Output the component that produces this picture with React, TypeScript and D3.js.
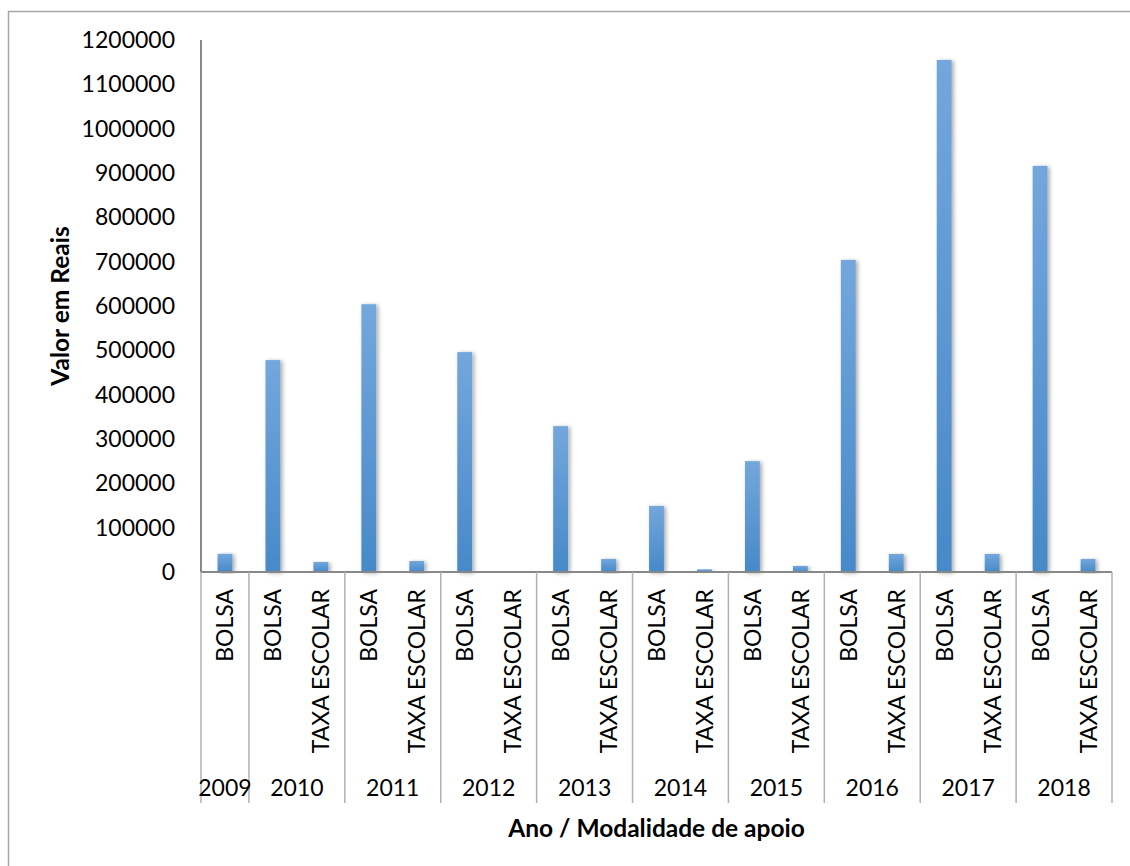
import { useEffect, useRef } from "react";
import * as d3 from "d3";

// Valores (R$)
const anos = ["2009", "2010", "2011", "2012", "2013", "2014", "2015", "2016", "2017", "2018"];
const bolsa = [41000, 478000, 604000, 496000, 329000, 149000, 250000, 704000, 1155000, 916000];
// null = modalidade ausente naquele ano
const taxaEscolar: (number | null)[] = [null, 22500, 24800, 0, 29300, 6000, 13500, 40600, 40600, 29300];
const yMax = 1200000;

interface Categoria {
	ano: string;
	modalidade: string;
	valor: number;
}

const categorias: Categoria[] = [];
anos.forEach((ano, i) => {
	categorias.push({ ano, modalidade: "BOLSA", valor: bolsa[i] });
	if (taxaEscolar[i] !== null) {
		categorias.push({ ano, modalidade: "TAXA ESCOLAR", valor: taxaEscolar[i] as number });
	}
});

const FONT = "Lato, Carlito, 'Open Sans', sans-serif";
const FS = 23;
const FS_TITLE = 24.5;

const App = () => {
	const svgRef = useRef<SVGSVGElement>(null);

	useEffect(() => {
		if (!svgRef.current) return;
		document.body.style.margin = "0";

		const width = 1130;
		const height = 866;
		const margin = { top: 40, left: 201, right: 18, bottom: 294 };
		const x0 = margin.left;
		const x1 = width - margin.right;
		const yBase = height - margin.bottom;

		const svg = d3.select(svgRef.current).attr("width", width).attr("height", height);
		svg.selectAll("*").remove();

		const defs = svg.append("defs");
		const grad = defs
			.append("linearGradient")
			.attr("id", "barGrad")
			.attr("x1", 0)
			.attr("y1", 0)
			.attr("x2", 0)
			.attr("y2", 1);
		grad.append("stop").attr("offset", "0%").attr("stop-color", "#73a7dc");
		grad.append("stop").attr("offset", "100%").attr("stop-color", "#4789c8");

		const shadow = defs
			.append("filter")
			.attr("id", "barShadow")
			.attr("x", "-50%")
			.attr("y", "-10%")
			.attr("width", "200%")
			.attr("height", "120%");
		shadow
			.append("feDropShadow")
			.attr("dx", 2)
			.attr("dy", 1)
			.attr("stdDeviation", 2)
			.attr("flood-color", "#000")
			.attr("flood-opacity", 0.35);

		// Borda externa
		svg
			.append("rect")
			.attr("x", 8.5)
			.attr("y", 11.5)
			.attr("width", width + 10)
			.attr("height", height + 10)
			.attr("fill", "#fff")
			.attr("stroke", "#a6a6a6")
			.attr("stroke-width", 1.5);

		// Escalas
		const xScale = d3
			.scaleBand<number>()
			.domain(d3.range(categorias.length))
			.range([x0, x1])
			.paddingInner(0.69)
			.paddingOuter(0.345);
		const xIdx = d3.scaleLinear().domain([0, categorias.length]).range([x0, x1]);

		const yScale = d3.scaleLinear().domain([0, yMax]).range([yBase, margin.top]);

		// Eixo Y
		const yAxis = d3
			.axisLeft(yScale)
			.ticks(12)
			.tickSize(0)
			.tickPadding(26)
			.tickFormat((d) => d3.format("d")(d as number));

		const gy = svg.append("g").attr("transform", `translate(${x0},0)`).call(yAxis);
		gy.select(".domain").remove();
		gy.selectAll("text")
			.attr("font-family", FONT)
			.attr("font-size", FS)
			.attr("fill", "#000");

		svg
			.append("line")
			.attr("x1", x0)
			.attr("x2", x0)
			.attr("y1", margin.top)
			.attr("y2", yBase)
			.attr("stroke", "#888")
			.attr("stroke-width", 2);

		// Barras
		svg
			.append("g")
			.selectAll("rect")
			.data(categorias)
			.enter()
			.append("rect")
			.attr("x", (_d, i) => xScale(i) as number)
			.attr("y", (d) => yScale(d.valor))
			.attr("width", xScale.bandwidth())
			.attr("height", (d) => yBase - yScale(d.valor))
			.attr("fill", "url(#barGrad)")
			.attr("filter", (d) => (d.valor > 0 ? "url(#barShadow)" : null));

		// Eixo X
		svg
			.append("line")
			.attr("x1", x0)
			.attr("x2", x1)
			.attr("y1", yBase)
			.attr("y2", yBase)
			.attr("stroke", "#888")
			.attr("stroke-width", 2);

		// Separadores de ano
		const limites: number[] = [0];
		anos.forEach((ano) => {
			const n = categorias.filter((c) => c.ano === ano).length;
			limites.push(limites[limites.length - 1] + n);
		});

		svg
			.append("g")
			.selectAll("line")
			.data(limites)
			.enter()
			.append("line")
			.attr("x1", (d) => xIdx(d))
			.attr("x2", (d) => xIdx(d))
			.attr("y1", yBase)
			.attr("y2", 803)
			.attr("stroke", "#b0b0b0")
			.attr("stroke-width", 1.5);

		// Rótulos das modalidades (rotacionados)
		svg
			.append("g")
			.selectAll("text")
			.data(categorias)
			.enter()
			.append("text")
			.attr(
				"transform",
				(_d, i) => `translate(${(xScale(i) as number) + xScale.bandwidth() / 2 + 8.5},589) rotate(-90)`,
			)
			.attr("text-anchor", "end")
			.attr("font-family", FONT)
			.attr("font-size", FS)
			.attr("fill", "#000")
			.text((d) => d.modalidade);

		// Rótulos dos anos
		svg
			.append("g")
			.selectAll("text")
			.data(anos)
			.enter()
			.append("text")
			.attr("x", (_d, i) => (xIdx(limites[i]) + xIdx(limites[i + 1])) / 2)
			.attr("y", 787)
			.attr("dominant-baseline", "central")
			.attr("text-anchor", "middle")
			.attr("font-family", FONT)
			.attr("font-size", FS)
			.attr("fill", "#000")
			.text((d) => d);

		// Títulos dos eixos
		svg
			.append("text")
			.attr("x", (x0 + x1) / 2)
			.attr("y", 827)
			.attr("dominant-baseline", "central")
			.attr("text-anchor", "middle")
			.attr("font-family", FONT)
			.attr("font-weight", "bold")
			.attr("font-size", FS_TITLE)
			.attr("fill", "#000")
			.text("Ano / Modalidade de apoio");

		svg
			.append("text")
			.attr("transform", `translate(59,${(margin.top + yBase) / 2}) rotate(-90)`)
			.attr("dominant-baseline", "central")
			.attr("text-anchor", "middle")
			.attr("font-family", FONT)
			.attr("font-weight", "bold")
			.attr("font-size", FS_TITLE)
			.attr("fill", "#000")
			.text("Valor em Reais");
	}, []);

	return <svg ref={svgRef} style={{ display: "block" }}></svg>;
};

export default App;
